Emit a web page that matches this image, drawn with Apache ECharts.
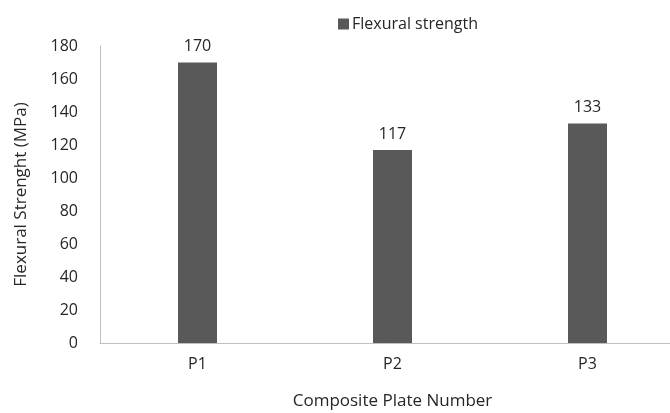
<!DOCTYPE html>
<html>
<head>
<meta charset="utf-8">
<script src="https://cdn.jsdelivr.net/npm/echarts@6/dist/echarts.min.js"></script>
<style>
  html, body { margin: 0; padding: 0; background: #fff; }
  #chart { width: 670px; height: 413px; }
</style>
</head>
<body>
<div id="chart"></div>
<script>
// Flexural strength per composite plate
const categories = ['P1', 'P2', 'P3'];
const strengthValues = [170, 117, 133];
const seriesName = 'Flexural strength';
const yTicks = { min: 0, max: 180, interval: 20 };

const font = '"Open Sans", sans-serif';
const chart = echarts.init(document.getElementById('chart'), null, { renderer: 'canvas' });

chart.setOption({
  animation: false,
  backgroundColor: '#ffffff',
  textStyle: { fontFamily: font },
  legend: {
    data: [seriesName],
    top: 11,
    left: 333,
    itemWidth: 11,
    itemHeight: 11,
    itemGap: 4,
    textStyle: { fontFamily: font, fontSize: 16, color: '#262626', padding: [0, 0, 0, -2] },
    icon: 'rect'
  },
  grid: { left: 100, top: 46, width: 585, height: 297, containLabel: false, outerBoundsMode: 'none' },
  xAxis: {
    type: 'category',
    data: categories,
    name: 'Composite Plate Number',
    nameLocation: 'middle',
    nameGap: 50,
    nameTextStyle: { fontFamily: font, fontSize: 17, color: '#262626' },
    axisLine: { lineStyle: { color: '#bfbfbf', width: 1 } },
    axisTick: { show: false },
    axisLabel: { fontFamily: font, fontSize: 16, color: '#262626', margin: 13 }
  },
  yAxis: {
    type: 'value',
    min: yTicks.min,
    max: yTicks.max,
    interval: yTicks.interval,
    name: 'Flexural Strenght (MPa)',
    nameLocation: 'middle',
    nameGap: 70,
    nameTextStyle: { fontFamily: font, fontSize: 17, color: '#262626' },
    axisLine: { show: true, lineStyle: { color: '#bfbfbf', width: 1 } },
    axisTick: { show: false },
    splitLine: { show: false },
    axisLabel: { fontFamily: font, fontSize: 16, color: '#262626', margin: 22 }
  },
  series: [{
    name: seriesName,
    type: 'bar',
    data: strengthValues,
    barWidth: '20%',
    itemStyle: { color: '#595959' },
    label: {
      show: true,
      position: 'top',
      distance: 8,
      fontFamily: font,
      fontSize: 16,
      color: '#262626'
    }
  }]
});
</script>
</body>
</html>
